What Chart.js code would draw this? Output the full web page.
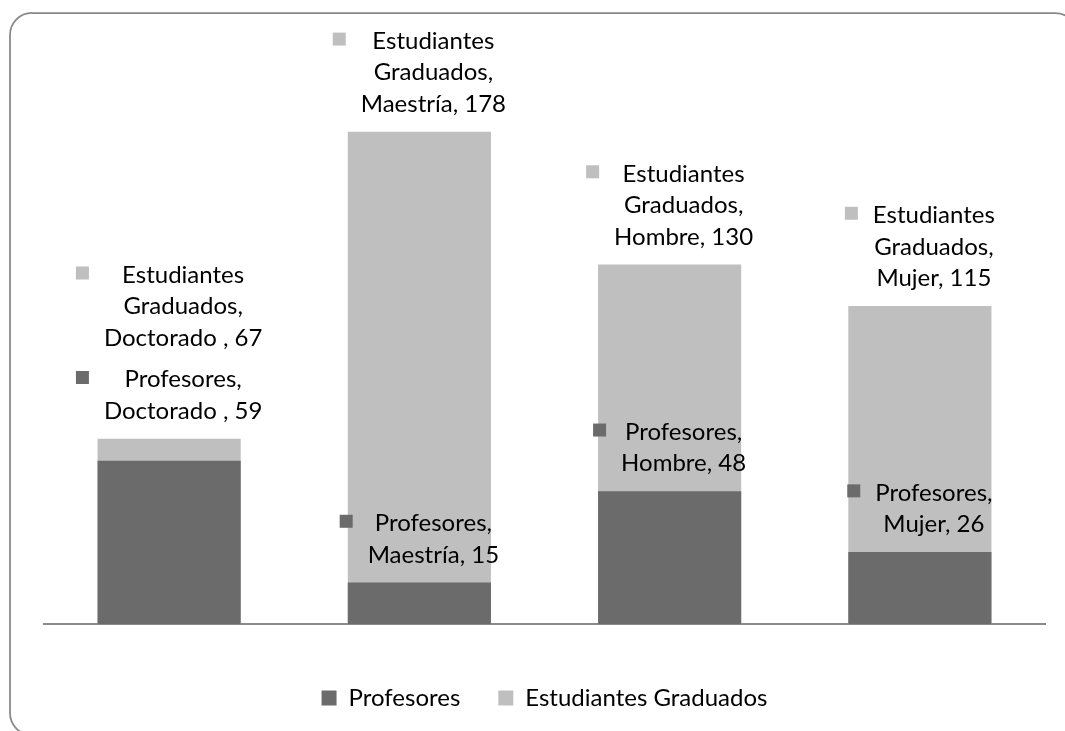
<!DOCTYPE html>
<html>
<head>
<meta charset="utf-8">
<script src="https://cdn.jsdelivr.net/npm/chart.js@4.4.1/dist/chart.umd.min.js"></script>
<style>
  html, body { margin: 0; padding: 0; background: #fff; }
  #wrap { width: 1065px; height: 731px; position: relative; }
</style>
</head>
<body>
<div id="wrap"><canvas id="chart" width="1065" height="731"></canvas></div>
<script>
// data
const categories = ["Doctorado ", "Maestría", "Hombre", "Mujer"];
const profesores = [59, 15, 48, 26];
const graduados = [67, 178, 130, 115];
const yMax = 200;

const DARK = "#6b6b6b";
const LIGHT = "#bfbfbf";
const FONT = "Lato";
const FS = 24;
const LH = 31.5;

function labelLines(series, cat, val) {
  const words = series.split(" ");
  words[words.length - 1] += ",";
  return words.concat([cat + ", " + val]);
}

function drawLabel(ctx, lines, cx, bottom, color) {
  const widths = lines.map(l => ctx.measureText(l).width);
  const maxW = Math.max(...widths);
  const sq = 13, gap = 15;
  const left = cx - (sq + gap + maxW) / 2;
  const textX = left + sq + gap + maxW / 2;
  const firstY = bottom - lines.length * LH + LH / 2;
  ctx.fillStyle = color;
  ctx.fillRect(left, firstY - sq / 2 - 2, sq, sq);
  ctx.fillStyle = "#000";
  lines.forEach((l, k) => ctx.fillText(l, textX, firstY + k * LH));
}

// labels sit above the top of each series' bar
const pointLabels = {
  id: "pointLabels",
  afterDatasetsDraw(chart) {
    const ctx = chart.ctx;
    const dark = chart.getDatasetMeta(0).data;
    const light = chart.getDatasetMeta(1).data;
    ctx.save();
    ctx.font = FS + "px " + FONT;
    ctx.textAlign = "center";
    ctx.textBaseline = "middle";
    categories.forEach((cat, i) => {
      const pLines = labelLines("Profesores", cat, profesores[i]);
      const gLines = labelLines("Estudiantes Graduados", cat, graduados[i]);
      const pTop = dark[i].y, gTop = light[i].y, cx = dark[i].x;
      const pH = pLines.length * LH;
      let pBottom = pTop - 12;
      let gBottom = gTop - 12;
      // dark label would cross the light bar's edge: move it up, light one above it
      if (pBottom > gTop && pBottom - pH < gTop) {
        pBottom = gTop - 12;
        gBottom = pBottom - pH - 10;
      }
      drawLabel(ctx, pLines, cx, pBottom, DARK);
      drawLabel(ctx, gLines, cx, gBottom, LIGHT);
    });
    ctx.restore();
  }
};

const frame = {
  id: "frame",
  beforeDraw(chart) {
    const ctx = chart.ctx;
    ctx.save();
    ctx.fillStyle = "#fff";
    ctx.fillRect(0, 0, chart.width, chart.height);
    ctx.strokeStyle = "#888";
    ctx.lineWidth = 1.75;
    ctx.beginPath();
    ctx.roundRect(10, 13, 1067, 722, 22);
    ctx.stroke();
    ctx.restore();
  }
};

new Chart(document.getElementById("chart"), {
  type: "bar",
  data: {
    labels: categories,
    datasets: [
      { label: "Profesores", data: profesores, backgroundColor: DARK, grouped: false },
      { label: "Estudiantes Graduados", data: graduados, backgroundColor: LIGHT, grouped: false }
    ]
  },
  options: {
    responsive: false,
    animation: false,
    categoryPercentage: 0.572,
    barPercentage: 1,
    layout: { padding: { left: 44, right: 20, top: 71, bottom: 11 } },
    scales: {
      x: {
        grid: { display: false },
        ticks: { display: false },
        border: { color: "#8a8a8a", width: 2 },
        afterFit(scale) { scale.height += 16; }
      },
      y: { display: false, min: 0, max: yMax }
    },
    plugins: {
      tooltip: { enabled: false },
      legend: {
        position: "bottom",
        labels: {
          boxWidth: 15,
          boxHeight: 15,
          padding: 38,
          color: "#000",
          font: { family: FONT, size: FS }
        }
      }
    }
  },
  plugins: [frame, pointLabels]
});
</script>
</body>
</html>
